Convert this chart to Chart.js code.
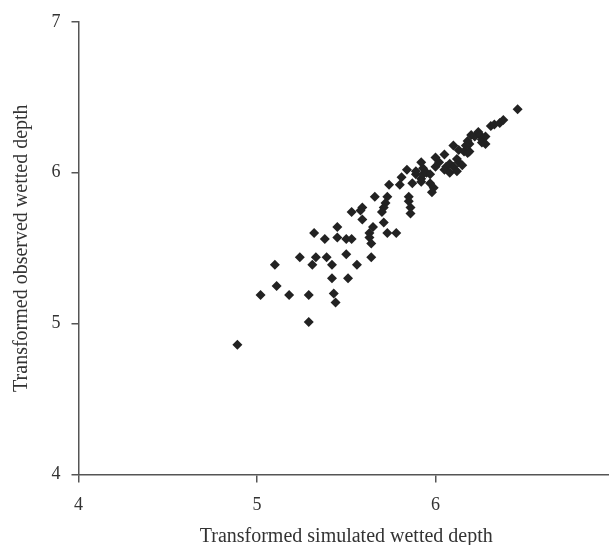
<!DOCTYPE html>
<html>
<head>
<meta charset="utf-8">
<script src="https://cdn.jsdelivr.net/npm/chart.js@4.4.0/dist/chart.umd.min.js"></script>
<style>
  html, body { margin: 0; padding: 0; background: #fff; }
  #wrap { width: 609px; height: 545px; overflow: hidden; }
  canvas { display: block; }
</style>
</head>
<body>
<div id="wrap"><canvas id="scatterChart" width="640" height="550" style="width:640px;height:550px"></canvas></div>
<script>
    // values
    const simulated = [
      4.89, 5.29, 5.02, 5.18, 5.29, 5.43, 5.44, 5.11, 5.10, 5.31,
      5.42, 5.56, 5.42, 5.51, 5.24, 5.33, 5.39, 5.50, 5.64, 5.32,
      5.38, 5.45, 5.50, 5.53, 5.45, 5.63, 5.63, 5.64, 5.73, 5.78,
      5.53, 5.59, 5.58, 5.59, 5.65, 5.71, 5.66, 5.73, 5.72, 5.71,
      5.70, 5.74, 5.80, 5.81, 5.85, 5.85, 5.86, 5.86, 5.87, 5.84,
      5.89, 5.92, 5.89, 5.93, 5.93, 5.92, 5.95, 5.97, 5.92, 5.97,
      5.99, 5.98, 6.00, 6.02, 6.00, 6.05, 6.06, 6.08, 6.05, 6.08,
      6.12, 6.13, 6.15, 6.10, 6.12, 6.10, 6.13, 6.16, 6.18, 6.19,
      6.19, 6.18, 6.17, 6.20, 6.22, 6.24, 6.25, 6.26, 6.28, 6.26,
      6.28, 6.31, 6.33, 6.36, 6.38, 6.46
    ];
    const observed = [
      4.86, 5.01, 5.19, 5.19, 5.19, 5.20, 5.14, 5.25, 5.39, 5.39,
      5.39, 5.39, 5.30, 5.30, 5.44, 5.44, 5.44, 5.46, 5.44, 5.60,
      5.56, 5.57, 5.56, 5.56, 5.64, 5.60, 5.57, 5.53, 5.60, 5.60,
      5.74, 5.77, 5.75, 5.69, 5.64, 5.67, 5.84, 5.84, 5.80, 5.77,
      5.74, 5.92, 5.92, 5.97, 5.84, 5.81, 5.77, 5.73, 5.93, 6.02,
      5.99, 5.96, 6.01, 6.03, 5.99, 6.07, 6.00, 5.99, 5.94, 5.93,
      5.90, 5.87, 6.10, 6.07, 6.04, 6.12, 6.04, 6.06, 6.02, 6.00,
      6.09, 6.07, 6.05, 6.04, 6.01, 6.18, 6.15, 6.14, 6.13, 6.14,
      6.19, 6.21, 6.18, 6.25, 6.24, 6.27, 6.25, 6.22, 6.24, 6.20,
      6.19, 6.31, 6.32, 6.33, 6.35, 6.42
    ];
    const xTicks = [4, 5, 6, 7];
    const yTicks = [4, 5, 6, 7];

    const points = simulated.map((v, i) => ({ x: v, y: observed[i] }));

    const axisColor = '#555';
    const textColor = '#333';
    const serif = 'Liberation Serif';

    new Chart(document.getElementById('scatterChart').getContext('2d'), {
      type: 'scatter',
      data: {
        datasets: [{
          data: points,
          pointStyle: 'rectRot',
          pointRadius: 5,
          pointHoverRadius: 5,
          backgroundColor: '#222',
          borderColor: '#222',
          borderWidth: 0
        }]
      },
      options: {
        responsive: false,
        devicePixelRatio: 1,
        animation: false,
        layout: { padding: { top: 20, right: 26, left: 0, bottom: 0 } },
        plugins: { legend: { display: false }, tooltip: { enabled: false } },
        scales: {
          x: {
            type: 'linear',
            min: xTicks[0],
            max: xTicks[xTicks.length - 1],
            afterBuildTicks: s => { s.ticks = xTicks.map(v => ({ value: v })); },
            afterFit: s => { s.height = 75.5; },
            border: { display: true, color: axisColor, width: 1.5 },
            grid: { drawOnChartArea: false, drawTicks: true, tickLength: 8, color: axisColor, lineWidth: 1.5 },
            ticks: { color: textColor, font: { family: serif, size: 18 }, padding: 12 },
            title: {
              display: true,
              text: 'Transformed simulated wetted depth',
              color: textColor,
              font: { family: serif, size: 20 },
              padding: { top: 4, bottom: 1 }
            }
          },
          y: {
            type: 'linear',
            min: yTicks[0],
            max: yTicks[yTicks.length - 1],
            afterBuildTicks: s => { s.ticks = yTicks.map(v => ({ value: v })); },
            afterFit: s => { s.width = 78.5; },
            border: { display: true, color: axisColor, width: 1.5 },
            grid: { drawOnChartArea: false, drawTicks: true, tickLength: 7, color: axisColor, lineWidth: 1.5 },
            ticks: { color: textColor, font: { family: serif, size: 18 }, padding: 11 },
            title: {
              display: true,
              text: 'Transformed observed wetted depth',
              color: textColor,
              font: { family: serif, size: 20 },
              padding: { top: 10, bottom: 4 }
            }
          }
        }
      }
    });
</script>
</body>
</html>
